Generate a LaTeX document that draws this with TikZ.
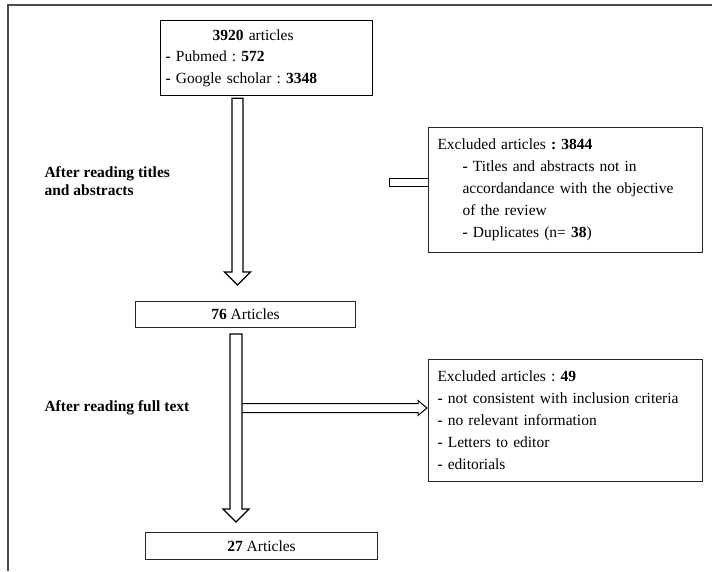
\documentclass[tikz,border=0pt]{standalone}
\usepackage{fontspec}
\setmainfont{Liberation Serif}
\usetikzlibrary{positioning, calc}

\begin{document}
\frenchspacing
\begin{tikzpicture}[
    x=1pt, y=-1pt,
    box/.style={
        rectangle,
        draw=black!85,
        line width=1pt,
        fill=white,
        inner sep=0pt,
        font=\fontsize{15.5}{22}\selectfont
    },
    listbox/.style={
        box,
        anchor=north west,
        align=left,
        inner xsep=9pt,
        text width=256pt
    },
    hollow/.style={
        draw=black,
        line width=1.3pt,
        fill=white
    },
    steplabel/.style={
        anchor=west,
        align=left,
        font=\fontsize{15.5}{18.5}\selectfont\bfseries
    }
]

\useasboundingbox (0,0) rectangle (712,571);

% Outer frame
\draw[line width=1.5pt, black!70] (712,5) -- (8,5) -- (8,571);

% Flow boxes
\node[box, anchor=north west, align=left, inner xsep=5pt, text width=202pt, minimum height=75pt, font=\fontsize{15.5}{21.5}\selectfont, line width=1.3pt, draw=black] (search) at (160,20) {
    \hspace*{47pt}\textbf{3920} articles \\
    \textbf{-} Pubmed : \textbf{572} \\
    \textbf{-} Google scholar : \textbf{3348}
};

\node[box, anchor=north west, minimum width=220pt, minimum height=26pt] (screened) at (135,301) {\textbf{76} Articles};

\node[box, anchor=north west, minimum width=232pt, minimum height=27pt] (included) at (145,532) {\textbf{27} Articles};

% Exclusion boxes
\node[listbox, minimum height=125pt] (excl1) at (428,127) {
    Excluded articles \textbf{: 3844} \\
    \hspace*{25pt}\textbf{-} Titles and abstracts not in \\
    \hspace*{25pt}accordandance with the objective \\
    \hspace*{25pt}of the review \\
    \hspace*{25pt}\textbf{-} Duplicates (n= \textbf{38})
};

\node[listbox, minimum height=122pt] (excl2) at (428,359) {
    Excluded articles : \textbf{49} \\
    \textbf{-} not consistent with inclusion criteria \\
    \textbf{-} no relevant information \\
    \textbf{-} Letters to editor \\
    \textbf{-} editorials
};

% Step labels
\node[steplabel] (lab1) at (41,181) {After reading titles \\ and abstracts};
\node[steplabel] (lab2) at (41,408) {After reading full text};

% Shaft positions of the block arrows
\coordinate (shaft1) at (237.5,0);
\coordinate (shaft2) at (236,0);

% Block arrow, titles and abstracts
\draw[hollow] ($(search.south -| shaft1)+(-5.5,2)$) -- ($(screened.north -| shaft1)+(-5.5,-29)$) -- ++(-7.5,0)
    -- ($(screened.north -| shaft1)+(0,-16)$) -- ++(13,-13) -- ++(-7.5,0) -- ($(search.south -| shaft1)+(5.5,2)$) -- cycle;

% Stub into first exclusion box
\draw[hollow, line width=1pt] ($(excl1.west)+(0,-11.5)$) -- ++(-39,0) -- ++(0,8) -- ++(39,0);

% Side arrow to second exclusion box
\draw[hollow, line width=1pt] ($(excl2.west -| shaft2)+(6,-17)$) -- ($(excl2.west)+(-10,-17)$) -- ++(0,-3)
    -- ($(excl2.west)+(-1,-12.5)$) -- ($(excl2.west)+(-10,-5)$) -- ++(0,-3) -- ($(excl2.west -| shaft2)+(6,-8)$);

% Block arrow, full text
\draw[hollow] ($(screened.south -| shaft2)+(-6,6)$) -- ($(included.north -| shaft2)+(-6,-23)$) -- ++(-7,0)
    -- ($(included.north -| shaft2)+(0,-10)$) -- ++(13,-13) -- ++(-7,0) -- ($(screened.south -| shaft2)+(6,6)$) -- cycle;

\end{tikzpicture}
\end{document}
